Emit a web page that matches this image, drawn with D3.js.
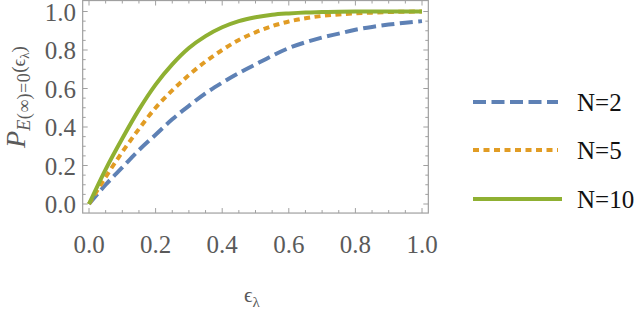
<!DOCTYPE html>
<html>
<head>
<meta charset="utf-8">
<script src="https://cdnjs.cloudflare.com/ajax/libs/d3/7.8.5/d3.min.js"></script>
<style>
  body { margin: 0; background: #fff; }
  svg { display: block; }
</style>
</head>
<body>
<svg id="chart" width="640" height="313"></svg>
<script>
// epsilon values (x axis)
var eps = [0, 0.05, 0.1, 0.15, 0.2, 0.25, 0.3, 0.35, 0.4, 0.45, 0.5,
           0.55, 0.6, 0.65, 0.7, 0.75, 0.8, 0.85, 0.9, 0.95, 1.0];

var pN2  = [0, 0.10, 0.19, 0.28, 0.36, 0.44, 0.51, 0.575, 0.63, 0.68, 0.725,
            0.77, 0.81, 0.84, 0.865, 0.885, 0.905, 0.92, 0.932, 0.942, 0.95];
var pN5  = [0, 0.14, 0.27, 0.39, 0.50, 0.59, 0.67, 0.74, 0.80, 0.852, 0.892,
            0.924, 0.948, 0.965, 0.977, 0.985, 0.99, 0.994, 0.997, 0.999, 1.0];
var pN10 = [0, 0.18, 0.34, 0.49, 0.62, 0.725, 0.81, 0.872, 0.918, 0.95, 0.97,
            0.983, 0.99, 0.995, 0.997, 0.999, 1.0, 1.0, 1.0, 1.0, 1.0];

var seriesNames = ["N=2", "N=5", "N=10"];
var tickVals = [0, 0.2, 0.4, 0.6, 0.8, 1.0];

var svg = d3.select("#chart");

var x = d3.scaleLinear().domain([0, 1]).range([89, 422]);
var y = d3.scaleLinear().domain([0, 1]).range([204, 11.5]);

// frame limits (Mathematica pads the plot range)
var fx0 = x(-0.019), fx1 = x(1.019);
var fy0 = y(-0.047), fy1 = y(1.057);

var frameCol = "#a0a0a0";
var labelCol = "#5a5a5a";

// ticks on all four sides
var minor = d3.range(0, 1.0001, 0.05);
var tg = svg.append("g").attr("stroke", frameCol).attr("stroke-width", 1);
minor.forEach(function (v) {
  var major = Math.abs(v * 5 - Math.round(v * 5)) < 1e-6;
  var len = major ? 5 : 3;
  // bottom / top
  tg.append("line").attr("x1", x(v)).attr("x2", x(v)).attr("y1", fy0).attr("y2", fy0 - len);
  tg.append("line").attr("x1", x(v)).attr("x2", x(v)).attr("y1", fy1).attr("y2", fy1 + len);
  // left / right
  tg.append("line").attr("y1", y(v)).attr("y2", y(v)).attr("x1", fx0).attr("x2", fx0 + len);
  tg.append("line").attr("y1", y(v)).attr("y2", y(v)).attr("x1", fx1).attr("x2", fx1 - len);
});

svg.append("rect")
  .attr("x", fx0).attr("y", fy1)
  .attr("width", fx1 - fx0).attr("height", fy0 - fy1)
  .attr("fill", "none").attr("stroke", frameCol).attr("stroke-width", 1.2);

// tick labels
svg.append("g").selectAll("text").data(tickVals).enter().append("text")
  .attr("x", 76).attr("y", function (d) { return y(d) + 9; })
  .attr("text-anchor", "end")
  .attr("font-family", "Liberation Serif, serif")
  .attr("font-size", 25).attr("fill", labelCol)
  .text(function (d) { return d3.format(".1f")(d); });

svg.append("g").selectAll("text").data(tickVals).enter().append("text")
  .attr("x", function (d) { return x(d); }).attr("y", 253)
  .attr("text-anchor", "middle")
  .attr("font-family", "Liberation Serif, serif")
  .attr("font-size", 25).attr("fill", labelCol)
  .text(function (d) { return d3.format(".1f")(d); });

// x axis label
var xl = svg.append("text")
  .attr("x", 252).attr("y", 302)
  .attr("text-anchor", "middle")
  .attr("font-family", "Liberation Serif, serif")
  .attr("font-size", 21).attr("fill", labelCol);
xl.append("tspan").text("\u03F5");
xl.append("tspan").attr("dy", 5).attr("font-size", 15).text("\u03BB");

// y axis label
var yl = svg.append("text")
  .attr("transform", "translate(25,97) rotate(-90)")
  .attr("text-anchor", "middle")
  .attr("font-family", "Liberation Serif, serif")
  .attr("fill", labelCol);
yl.append("tspan").attr("font-size", 28).attr("font-style", "italic").text("P");
yl.append("tspan").attr("font-size", 18).attr("dy", 5).attr("letter-spacing", 0.5)
  .text("E").attr("font-style", "italic");
yl.append("tspan").attr("font-size", 18).attr("letter-spacing", 0.5).text("(\u221E)=0");
yl.append("tspan").attr("font-size", 19).attr("dy", -5).text("(\u03F5");
yl.append("tspan").attr("font-size", 13).attr("dy", 4).text("\u03BB");
yl.append("tspan").attr("font-size", 19).attr("dy", -4).text(")");

// curves
var styles = [
  { color: "#5E81B5", dash: "13,5.5" },
  { color: "#E19C24", dash: "6,4.5" },
  { color: "#8FB032", dash: null }
];
var allSeries = [pN2, pN5, pN10];

var line = d3.line()
  .x(function (d, i) { return x(eps[i]); })
  .y(function (d) { return y(d); })
  .curve(d3.curveMonotoneX);

svg.append("g").selectAll("path").data(allSeries).enter().append("path")
  .attr("d", line)
  .attr("fill", "none")
  .attr("stroke", function (d, i) { return styles[i].color; })
  .attr("stroke-width", 4)
  .attr("stroke-dasharray", function (d, i) { return styles[i].dash; });

// legend
var legY = [102, 150, 199];
var lg = svg.append("g");
seriesNames.forEach(function (name, i) {
  lg.append("line")
    .attr("x1", 473).attr("x2", i == 2 ? 562 : 558)
    .attr("y1", legY[i]).attr("y2", legY[i])
    .attr("stroke", styles[i].color).attr("stroke-width", 4)
    .attr("stroke-dasharray", styles[i].dash);
  lg.append("text")
    .attr("x", 577).attr("y", legY[i] + 9)
    .attr("font-family", "Liberation Serif, serif")
    .attr("font-size", 25).attr("fill", "#111")
    .text(name);
});
</script>
</body>
</html>
